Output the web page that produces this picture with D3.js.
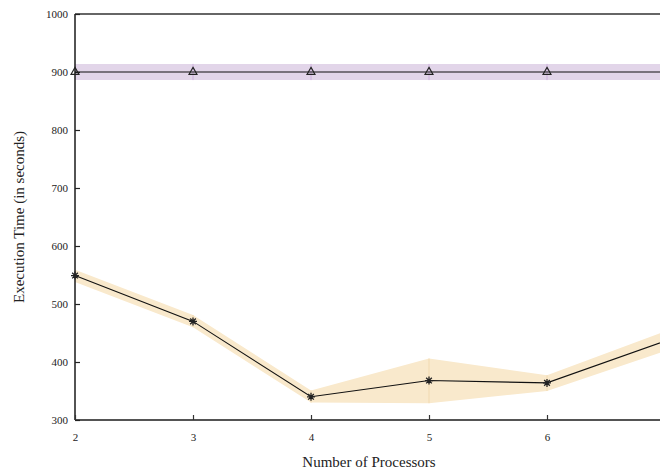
<!DOCTYPE html>
<html>
<head>
<meta charset="utf-8">
<script src="https://cdn.jsdelivr.net/npm/d3@7"></script>
<style>
  html, body { margin: 0; padding: 0; background: #fff; }
  svg { display: block; }
  text { font-family: "Liberation Serif", "DejaVu Serif", serif; fill: #222; }
</style>
</head>
<body>
<svg id="chart" width="660" height="472"></svg>
<script>
// Number of processors on the x axis
const processors = [2, 3, 4, 5, 6, 7];

// Baseline run: mean execution time with lower/upper band
const baselineMean = [900, 900, 900, 900, 900, 900];
const baselineLow  = [886, 886, 886, 886, 886, 886];
const baselineHigh = [914, 914, 914, 914, 914, 914];

// Parallel run: mean execution time with lower/upper band
const parallelMean = [549, 470, 340, 368, 364, 436];
const parallelLow  = [538, 460, 330, 329, 350, 419];
const parallelHigh = [559, 481, 351, 406, 377, 453];

const xTicks = [2, 3, 4, 5, 6];
const yTicks = [300, 400, 500, 600, 700, 800, 900, 1000];

const svg = d3.select("#chart");
const plotLeft = 75, plotRight = 665, plotTop = 14, plotBottom = 420;

const x = d3.scaleLinear().domain([2, 7]).range([plotLeft, plotRight]);
const y = d3.scaleLinear().domain([300, 1000]).range([plotBottom, plotTop]);

const rows = (mean, low, high) =>
  processors.map((p, i) => ({ p, m: mean[i], lo: low[i], hi: high[i] }));
const baseline = rows(baselineMean, baselineLow, baselineHigh);
const parallel = rows(parallelMean, parallelLow, parallelHigh);

const area = d3.area().x(d => x(d.p)).y0(d => y(d.lo)).y1(d => y(d.hi));
const line = d3.line().x(d => x(d.p)).y(d => y(d.m));

// Shaded spread bands
function band(data, fill, edge) {
  svg.append("path").datum(data).attr("d", area).attr("fill", fill);
  svg.append("g").selectAll("line").data(data.slice(1, -1)).join("line")
    .attr("x1", d => x(d.p)).attr("x2", d => x(d.p))
    .attr("y1", d => y(d.lo)).attr("y2", d => y(d.hi))
    .attr("stroke", edge).attr("stroke-width", 1);
}
band(baseline, "#e2d5e9", "#cdb0dc");
band(parallel, "#f9e9cc", "#f1d9b0");

// Frame: left, bottom, top, right
const frame = svg.append("g").attr("stroke", "#1a1a1a").attr("fill", "none");
frame.append("line").attr("x1", plotLeft).attr("x2", plotLeft).attr("y1", plotTop).attr("y2", plotBottom).attr("stroke-width", 1.5);
frame.append("line").attr("x1", plotLeft).attr("x2", plotRight).attr("y1", plotBottom).attr("y2", plotBottom).attr("stroke-width", 1.5);
frame.append("line").attr("x1", plotLeft).attr("x2", plotRight).attr("y1", plotTop).attr("y2", plotTop).attr("stroke-width", 1.5).attr("stroke", "#333");
frame.append("line").attr("x1", plotRight).attr("x2", plotRight).attr("y1", plotTop).attr("y2", plotBottom).attr("stroke-width", 1.5);

// Axes with inward ticks
const yAxis = d3.axisLeft(y).tickValues(yTicks).tickSize(-5).tickPadding(7).tickFormat(d3.format("d"));
const gy = svg.append("g").attr("transform", `translate(${plotLeft},0)`).call(yAxis);
gy.select(".domain").remove();
gy.selectAll(".tick line").attr("stroke", "#222").attr("stroke-width", 1.2);
gy.selectAll(".tick text").attr("font-size", 11).attr("fill", "#222");

const yAxisR = d3.axisRight(y).tickValues(yTicks).tickSize(-5).tickFormat("");
const gyr = svg.append("g").attr("transform", `translate(${plotRight},0)`).call(yAxisR);
gyr.select(".domain").remove();
gyr.selectAll(".tick line").attr("stroke", "#222").attr("stroke-width", 1.2);

const xAxis = d3.axisBottom(x).tickValues(xTicks).tickSize(-5).tickPadding(13).tickFormat(d3.format("d"));
const gx = svg.append("g").attr("transform", `translate(0,${plotBottom})`).call(xAxis);
gx.select(".domain").remove();
gx.selectAll(".tick line").attr("stroke", "#333").attr("stroke-width", 1.2);
gx.selectAll(".tick text").attr("font-size", 11).attr("fill", "#222");

// Mean lines
svg.append("path").datum(baseline).attr("d", line)
  .attr("fill", "none").attr("stroke", "#111").attr("stroke-width", 1.1);
svg.append("path").datum(parallel).attr("d", line)
  .attr("fill", "none").attr("stroke", "#111").attr("stroke-width", 1.1);

// Eight-armed asterisk marker
const asterisk8 = {
  draw(ctx, size) {
    const r = Math.sqrt(size) / 2;
    const k = r * Math.SQRT1_2;
    ctx.moveTo(-r, 0); ctx.lineTo(r, 0);
    ctx.moveTo(0, -r); ctx.lineTo(0, r);
    ctx.moveTo(-k, -k); ctx.lineTo(k, k);
    ctx.moveTo(-k, k); ctx.lineTo(k, -k);
  }
};

svg.append("g").selectAll("path").data(baseline).join("path")
  .attr("transform", d => `translate(${x(d.p)},${y(d.m)})`)
  .attr("d", d3.symbol().type(d3.symbolTriangle2 || d3.symbolTriangle).size(45))
  .attr("fill", "none").attr("stroke", "#222").attr("stroke-width", 1.2);

svg.append("g").selectAll("path").data(parallel).join("path")
  .attr("transform", d => `translate(${x(d.p)},${y(d.m)})`)
  .attr("d", d3.symbol().type(asterisk8).size(64))
  .attr("fill", "none").attr("stroke", "#222").attr("stroke-width", 1.3);

// Axis titles
svg.append("text")
  .attr("x", 369).attr("y", 467).attr("text-anchor", "middle")
  .attr("font-size", 15).text("Number of Processors");
svg.append("text")
  .attr("transform", `translate(24,${(plotTop + plotBottom) / 2}) rotate(-90)`)
  .attr("text-anchor", "middle").attr("font-size", 15)
  .text("Execution Time (in seconds)");
</script>
</body>
</html>
